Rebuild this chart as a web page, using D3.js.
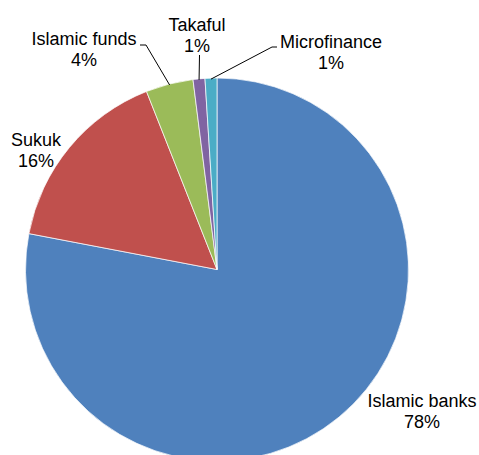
<!DOCTYPE html>
<html>
<head>
<meta charset="utf-8">
<script src="https://cdn.jsdelivr.net/npm/d3@7"></script>
<style>
  html, body { margin: 0; padding: 0; background: #fff; }
  svg text { font-family: "Liberation Sans", Arial, sans-serif; font-size: 18px; fill: #000; }
</style>
</head>
<body>
<svg id="chart" width="479" height="455"></svg>
<script>
// Shares of Islamic finance assets by sector (%)
const categories = ["Islamic banks", "Sukuk", "Islamic funds", "Takaful", "Microfinance"];
const values = [78, 16, 4, 1, 1];
const colors = ["#4F81BD", "#C0504D", "#9BBB59", "#8064A2", "#4BACC6"];

const svg = d3.select("#chart");
const cx = 217, cy = 269.5, radius = 191.5;

const pie = d3.pie().sort(null).value(d => d.value);
const arc = d3.arc().innerRadius(0).outerRadius(radius);
const data = categories.map((c, i) => ({ name: c, value: values[i], color: colors[i] }));
const arcs = pie(data);

const g = svg.append("g").attr("transform", `translate(${cx},${cy})`);
g.selectAll("path")
  .data(arcs)
  .join("path")
  .attr("d", arc)
  .attr("fill", d => d.data.color)
  .attr("stroke", "#fff")
  .attr("stroke-width", 0.7);

// Label placement per slice: text anchor (centre x, first baseline) and optional leader line
const labelPos = {
  "Islamic banks": { x: 422, y: 407, leader: null },
  "Sukuk":         { x: 36,  y: 146, leader: null },
  "Islamic funds": { x: 84,  y: 45,  leader: [[140, 45], [146, 45]] },
  "Takaful":       { x: 197, y: 31,  leader: [[199.5, 55]] },
  "Microfinance":  { x: 331, y: 48,  leader: [[277, 47], [272, 47]] }
};

const fmt = v => d3.format(".0f")(v) + "%";

arcs.forEach(a => {
  const p = labelPos[a.data.name];
  if (p.leader) {
    // leader runs from the label to a point just inside the slice's outer edge
    const mid = (a.startAngle + a.endAngle) / 2;
    const edge = [cx + Math.sin(mid) * (radius - 1), cy - Math.cos(mid) * (radius - 1)];
    const pts = p.leader.concat([edge]);
    svg.append("path")
      .attr("d", d3.line()(pts))
      .attr("fill", "none")
      .attr("stroke", "#000")
      .attr("stroke-width", 1);
  }
  const t = svg.append("text").attr("text-anchor", "middle");
  t.append("tspan").attr("x", p.x).attr("y", p.y).text(a.data.name);
  t.append("tspan").attr("x", p.x).attr("y", p.y + 20.8).text(fmt(a.data.value));
});
</script>
</body>
</html>
